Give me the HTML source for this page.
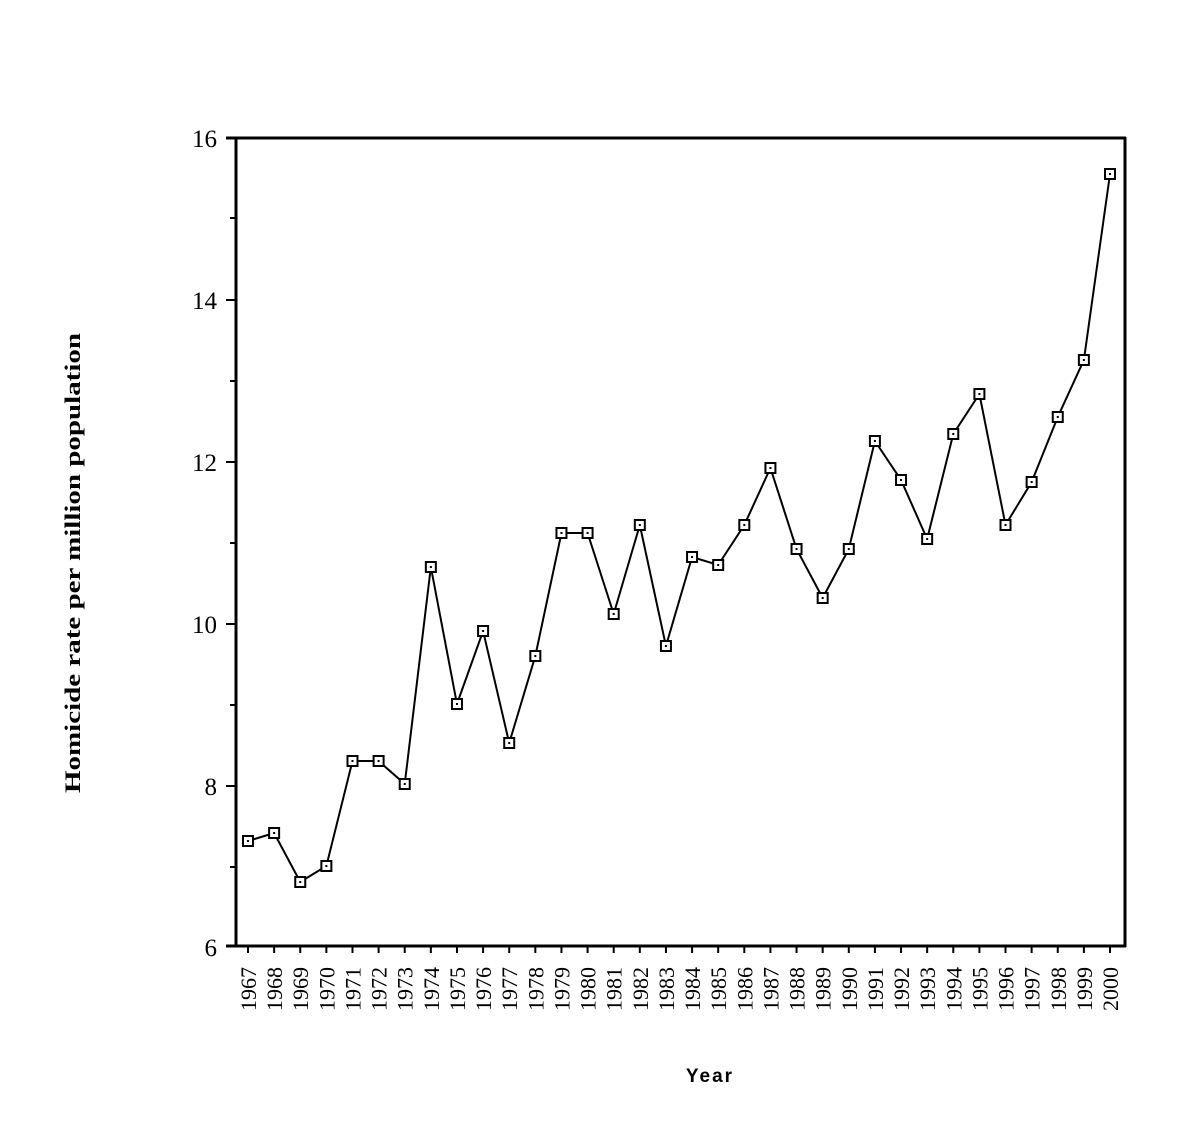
<!DOCTYPE html>
<html><head><style>body{margin:0;background:#fff}svg{display:block}</style></head>
<body>
<svg width="1200" height="1133" viewBox="0 0 1200 1133" xmlns="http://www.w3.org/2000/svg">
<g stroke="#000" fill="none">
<line x1="226" y1="138" x2="1126" y2="138" stroke-width="3"/>
<line x1="1125" y1="137" x2="1125" y2="947" stroke-width="3"/>
<line x1="236" y1="137" x2="236" y2="947" stroke-width="3"/>
<line x1="226" y1="946" x2="1126" y2="946" stroke-width="3"/>
<g stroke-width="2">
<line x1="230" y1="218" x2="236" y2="218"/>
<line x1="226" y1="300" x2="236" y2="300"/>
<line x1="230" y1="381" x2="236" y2="381"/>
<line x1="226" y1="462" x2="236" y2="462"/>
<line x1="230" y1="543" x2="236" y2="543"/>
<line x1="226" y1="624" x2="236" y2="624"/>
<line x1="230" y1="705" x2="236" y2="705"/>
<line x1="226" y1="786" x2="236" y2="786"/>
<line x1="230" y1="867" x2="236" y2="867"/>
</g>
<g id="xt" stroke-width="2"></g>
<polyline id="pl" stroke-width="2"/>
</g>
<g id="mk"></g>
<g font-family="Liberation Serif, serif" font-size="25" text-anchor="end">
<text x="217" y="147">16</text>
<text x="217" y="309">14</text>
<text x="217" y="471">12</text>
<text x="217" y="633">10</text>
<text x="217" y="795">8</text>
<text x="217" y="956">6</text>
</g>
<g id="xl" font-family="Liberation Serif, serif" font-size="22"></g>
<text transform="translate(80,793) rotate(-90)" font-family="Liberation Serif, serif" font-weight="bold" font-size="22" textLength="460" lengthAdjust="spacingAndGlyphs">Homicide rate per million population</text>
<text x="710" y="1082" text-anchor="middle" font-family="Liberation Sans, sans-serif" font-weight="bold" font-size="19" letter-spacing="2">Year</text>
</svg>
<script>
const ys=[841,833,882,866,761,761,784,567,704,631,743,656,533,533,614,525,646,557,565,525,468,549,598,549,441,480,539,434,394,525,482,417,360,174];
const ns="http://www.w3.org/2000/svg";
let pts=[],xt=document.getElementById('xt'),mk=document.getElementById('mk'),xl=document.getElementById('xl');
ys.forEach((y,i)=>{const x=248+i*862/33;pts.push(x+','+y);
let l=document.createElementNS(ns,'line');l.setAttribute('x1',x);l.setAttribute('x2',x);l.setAttribute('y1',946);l.setAttribute('y2',953);xt.appendChild(l);
let r=document.createElementNS(ns,'rect');r.setAttribute('x',x-5);r.setAttribute('y',y-5);r.setAttribute('width',10);r.setAttribute('height',10);r.setAttribute('fill','#fff');r.setAttribute('stroke','#000');r.setAttribute('stroke-width','2');mk.appendChild(r);
let d=document.createElementNS(ns,'rect');d.setAttribute('x',x-1);d.setAttribute('y',y-1);d.setAttribute('width',2);d.setAttribute('height',2);mk.appendChild(d);
let t=document.createElementNS(ns,'text');t.setAttribute('transform','translate('+(x+8)+',1011) rotate(-90)');t.textContent=1967+i;xl.appendChild(t);});
document.getElementById('pl').setAttribute('points',pts.join(' '));
</script>
</body></html>
